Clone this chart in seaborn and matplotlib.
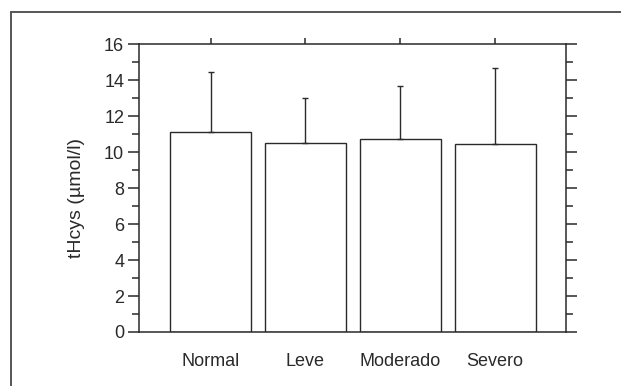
import numpy as np
import pandas as pd
import seaborn as sns
import matplotlib.pyplot as plt
from matplotlib.lines import Line2D
from matplotlib.ticker import MultipleLocator

# values
groups = ["Normal", "Leve", "Moderado", "Severo"]
means = [11.1, 10.5, 10.72, 10.47]
sds = [3.34, 2.5, 2.98, 4.23]

df = pd.DataFrame({"group": groups, "tHcys": means})

sns.set_style("white")
plt.rcParams['font.family'] = ['Liberation Sans Narrow', 'Liberation Sans', 'DejaVu Sans']
dark = "#2a2a2a"

fig = plt.figure(figsize=(6.21, 3.86), dpi=100)
ax = fig.add_axes([0.2245, 0.14, 0.6875, 0.745])

sns.barplot(data=df, x="group", y="tHcys", ax=ax, color="white",
            edgecolor=dark, linewidth=1.0, width=0.85, errorbar=None)
ax.errorbar(np.arange(len(groups)), means, yerr=[np.zeros(len(sds)), sds],
            fmt="none", ecolor=dark, elinewidth=1.0, capsize=2.5, capthick=1.0)

ax.set_xlim(-0.75, 3.75)
ax.set_ylim(0, 16)
ax.yaxis.set_major_locator(MultipleLocator(2))
ax.yaxis.set_minor_locator(MultipleLocator(1))
ax.set_xlabel("")
ax.set_ylabel("tHcys (\u00b5mol/l)", fontsize=14, color=dark, labelpad=14)
ax.yaxis.label.set_y(0.467)

for s in ax.spines.values():
    s.set_color(dark)
    s.set_linewidth(1.1)

ax.tick_params(axis="y", which="major", left=True, right=True, direction="out",
               length=8, width=1.1, color=dark, labelsize=13, labelcolor=dark, pad=3)
ax.tick_params(axis="y", which="minor", left=True, right=True, direction="out",
               length=5, width=1.1, color=dark)
ax.tick_params(axis="x", which="major", top=True, bottom=False, direction="out",
               length=4.5, width=1.1, color=dark, labelsize=13, labelcolor=dark, pad=11)

# outer frame (top and left edges only)
fig.add_artist(Line2D([10.5 / 621, 1.0], [1 - 11.5 / 386, 1 - 11.5 / 386],
                      transform=fig.transFigure, color="#555555", lw=1.4))
fig.add_artist(Line2D([10.5 / 621, 10.5 / 621], [0.0, 1 - 11.5 / 386],
                      transform=fig.transFigure, color="#555555", lw=1.4))

fig.savefig("out.png", dpi=100)
